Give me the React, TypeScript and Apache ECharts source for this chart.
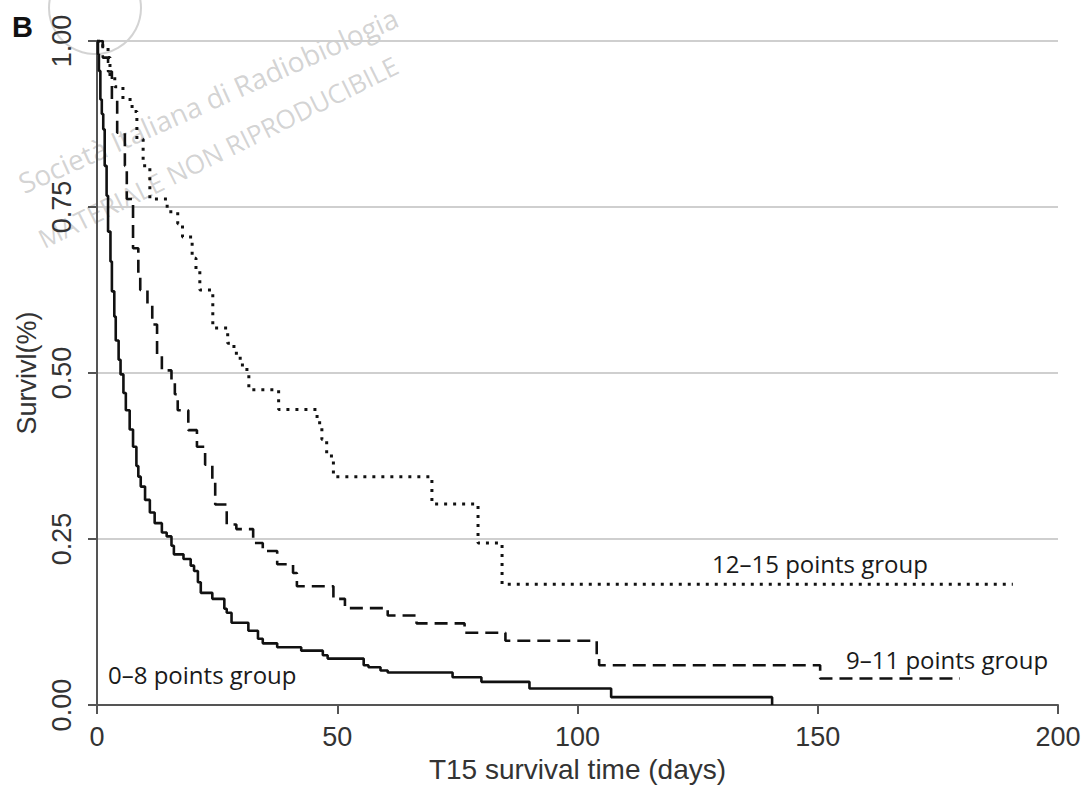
import { useEffect, useRef } from "react";
import * as echarts from "echarts";

// ---- Data ----
const xTickValues = [0, 50, 100, 150, 200];
const yTickLabels = ["0.00", "0.25", "0.50", "0.75", "1.00"];

const group0to8Days = [0, 0.2, 0.4, 0.7, 1.0, 1.3, 1.6, 2.0, 2.3, 2.8, 3.1, 3.6, 3.9, 4.5, 4.9, 5.5, 6.0, 6.8, 7.5, 8.2, 8.6, 9.1, 10.0, 11.0, 12.0, 13.5, 14.5, 15.5, 16.0, 18.0, 19.5, 20.2, 21.0, 21.6, 24.0, 26.5, 27.0, 28.0, 31.5, 33.5, 34.5, 37.5, 42.5, 47.0, 48.0, 55.5, 56.5, 59.0, 60.5, 74.0, 80.0, 90.0, 107.0, 140.5];
const group0to8Surv = [1, 0.98, 0.955, 0.912, 0.89, 0.867, 0.812, 0.767, 0.713, 0.668, 0.623, 0.585, 0.549, 0.52, 0.498, 0.47, 0.444, 0.415, 0.389, 0.36, 0.344, 0.329, 0.309, 0.29, 0.274, 0.26, 0.254, 0.24, 0.227, 0.22, 0.21, 0.202, 0.185, 0.169, 0.16, 0.145, 0.139, 0.124, 0.112, 0.1, 0.093, 0.087, 0.082, 0.075, 0.07, 0.06, 0.057, 0.052, 0.049, 0.042, 0.035, 0.025, 0.012, 0];

const group9to11Days = [0, 1.2, 2.3, 3.1, 4.2, 5.8, 6.2, 7.5, 8.6, 9.0, 10.5, 11.5, 12.5, 13.5, 15.5, 16.2, 16.8, 19.0, 20.8, 22.5, 24.0, 24.6, 27.0, 29.0, 32.5, 34.5, 37.5, 40.8, 41.6, 49.2, 51.6, 60.5, 66.5, 76.5, 85.0, 104.0, 104.5, 150.5, 179.6];
const group9to11Surv = [1, 0.975, 0.954, 0.912, 0.862, 0.812, 0.762, 0.688, 0.645, 0.625, 0.602, 0.573, 0.528, 0.504, 0.49, 0.468, 0.444, 0.414, 0.389, 0.362, 0.335, 0.302, 0.272, 0.265, 0.244, 0.232, 0.212, 0.199, 0.179, 0.16, 0.146, 0.135, 0.123, 0.109, 0.097, 0.075, 0.06, 0.04, 0.04];

const group12to15Days = [0, 1.2, 2.3, 2.7, 3.7, 5.4, 7.3, 8.3, 9.6, 11, 14.6, 16.8, 17.8, 19.8, 20.6, 21.4, 24.1, 27.2, 28.5, 29.8, 31.2, 31.6, 37.8, 45.8, 46.8, 47.8, 49.2, 69.7, 79.3, 84.3, 190.6];
const group12to15Surv = [1, 0.99, 0.975, 0.946, 0.931, 0.912, 0.894, 0.852, 0.812, 0.762, 0.743, 0.725, 0.705, 0.673, 0.655, 0.625, 0.568, 0.545, 0.53, 0.512, 0.497, 0.475, 0.445, 0.425, 0.4, 0.375, 0.344, 0.303, 0.244, 0.182, 0.182];

const groupNames = ["0–8 points group", "9–11 points group", "12–15 points group"];
const watermarkTexts = ["Società Italiana di Radiobiologia", "MATERIALE NON RIPRODUCIBILE"];

const pair = (xs: number[], ys: number[]) => xs.map((x, i) => [x, ys[i]]);

export default function App() {
  const ref = useRef<HTMLDivElement>(null);

  useEffect(() => {
    document.body.style.margin = "0";
    const chart = echarts.init(ref.current!, null, { renderer: "svg" });
    const axisColor = "#555";
    const labelFont = "'Liberation Sans', Arial, sans-serif";
    const annFont = "'Open Sans', 'Noto Sans', sans-serif";
    const ink = "#111";
    const wmColor = "rgba(150,150,150,0.42)";

    chart.setOption({
      animation: false,
      backgroundColor: "#ffffff",
      grid: { left: 97, right: 28, top: 41, bottom: 78, containLabel: false },
      xAxis: {
        type: "value",
        min: 0,
        max: 200,
        interval: 50,
        name: "T15 survival time (days)",
        nameLocation: "middle",
        nameGap: 48,
        nameTextStyle: { fontSize: 28, color: "#333", fontFamily: labelFont },
        axisLine: { show: true, lineStyle: { color: axisColor, width: 2 } },
        axisTick: { show: true, length: 9, lineStyle: { color: axisColor, width: 2 } },
        axisLabel: {
          fontSize: 27,
          color: "#333",
          fontFamily: labelFont,
          margin: 18,
          formatter: (v: number) => (xTickValues.includes(v) ? String(v) : ""),
        },
        splitLine: { show: false },
      },
      yAxis: {
        type: "value",
        min: 0,
        max: 1,
        interval: 0.25,
        name: "Survivl(%)",
        nameLocation: "middle",
        nameRotate: 90,
        nameGap: 52,
        nameTextStyle: { fontSize: 27, color: "#333", fontFamily: labelFont },
        axisLine: { show: true, onZero: false, lineStyle: { color: axisColor, width: 2 } },
        axisTick: { show: true, length: 9, lineStyle: { color: axisColor, width: 2 } },
        axisLabel: {
          rotate: 90,
          fontSize: 27,
          color: "#333",
          fontFamily: labelFont,
          margin: 22,
          formatter: (v: number) => yTickLabels[Math.round(v * 4)] ?? "",
        },
        splitLine: { show: true, lineStyle: { color: "#cfcfcf", width: 2 } },
      },
      series: [
        {
          name: groupNames[0],
          type: "line",
          step: "end",
          symbol: "none",
          data: pair(group0to8Days, group0to8Surv),
          lineStyle: { color: ink, width: 2.6, type: "solid" },
          z: 5,
        },
        {
          name: groupNames[1],
          type: "line",
          step: "end",
          symbol: "none",
          data: pair(group9to11Days, group9to11Surv),
          lineStyle: { color: ink, width: 2.6, type: [13, 7] },
          z: 5,
        },
        {
          name: groupNames[2],
          type: "line",
          step: "end",
          symbol: "none",
          data: pair(group12to15Days, group12to15Surv),
          lineStyle: { color: ink, width: 3, type: [3, 6] },
          z: 5,
        },
      ],
      graphic: [
        {
          type: "circle",
          silent: true,
          z: 0,
          shape: { cx: 95, cy: 8, r: 46 },
          style: { fill: "none", stroke: wmColor, lineWidth: 2 },
        },
        {
          type: "text",
          silent: true,
          z: 0,
          x: 208,
          y: 100,
          rotation: 0.42,
          style: {
            text: watermarkTexts[0],
            fill: wmColor,
            font: `28px ${annFont}`,
            align: "center",
            verticalAlign: "middle",
          },
        },
        {
          type: "text",
          silent: true,
          z: 0,
          x: 218,
          y: 152,
          rotation: 0.46,
          style: {
            text: watermarkTexts[1],
            fill: wmColor,
            font: `26px ${annFont}`,
            align: "center",
            verticalAlign: "middle",
          },
        },
        {
          type: "text",
          x: 12,
          y: 27,
          style: {
            text: "B",
            fill: "#111",
            font: `bold 29px ${labelFont}`,
            align: "left",
            verticalAlign: "middle",
          },
        },
        {
          type: "text",
          x: 108,
          y: 674,
          z: 10,
          style: { text: groupNames[0], fill: "#1a1a1a", font: `24px ${annFont}`, align: "left", verticalAlign: "middle" },
        },
        {
          type: "text",
          x: 846,
          y: 659,
          z: 10,
          style: { text: groupNames[1], fill: "#1a1a1a", font: `24px ${annFont}`, align: "left", verticalAlign: "middle" },
        },
        {
          type: "text",
          x: 712,
          y: 563,
          z: 10,
          style: { text: groupNames[2], fill: "#1a1a1a", font: `24px ${annFont}`, align: "left", verticalAlign: "middle" },
        },
      ],
    });
    return () => chart.dispose();
  }, []);

  return <div ref={ref} style={{ width: 1086, height: 788 }} />;
}
